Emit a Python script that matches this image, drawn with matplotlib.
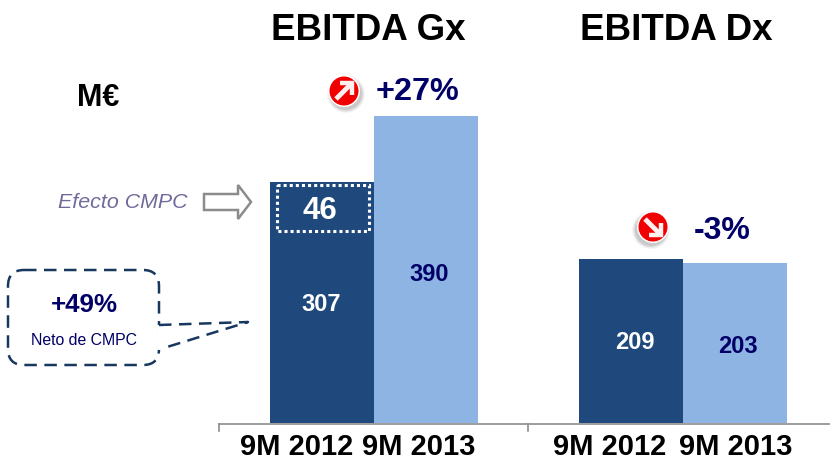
import matplotlib
matplotlib.use('Agg')
import matplotlib.pyplot as plt
from matplotlib.patches import Circle, FancyBboxPatch, Polygon, Rectangle

plt.rcParams['font.family'] = ['Liberation Sans', 'DejaVu Sans']

panels = ['EBITDA Gx', 'EBITDA Dx']
periods = ['9M 2012', '9M 2013', '9M 2012', '9M 2013']
values = [307, 390, 209, 203]
cmpc_effect = 46
changes = ['+27%', '-3%']

DARK = '#1f497d'
LIGHT = '#8eb4e3'
NAVY = '#000066'
LINE = '#17375e'
W, H = 830, 461

fig = plt.figure(figsize=(W / 100, H / 100), dpi=100, facecolor='white')

# Bars get their own axes, everything else goes on a pixel overlay
ax = fig.add_axes([219 / W, (H - 423) / H, (W - 219) / W, 330 / H])
ax.set_xlim(-0.5, 1.4773)
ax.set_ylim(0, 330 / 0.786)
ax.axis('off')

bar_w = 104 / 309
xs = [-bar_w / 2, bar_w / 2, 1 - bar_w / 2, 1 + bar_w / 2]
colors = [DARK, LIGHT, DARK, LIGHT]
ax.bar(xs, values, width=bar_w, color=colors, linewidth=0)

label_colors = ['white', NAVY, 'white', NAVY]
label_dx = [0, 0.013, 0.014, 0.01]
label_f = [0.49, 0.485, 0.49, 0.48]
for x, v, c, dx, f in zip(xs, values, label_colors, label_dx, label_f):
    ax.text(x + dx, v * f, str(v), color=c, fontsize=17, fontweight='bold', ha='center', va='center')

ov = fig.add_axes([0, 0, 1, 1], facecolor='none')
ov.set_xlim(0, W)
ov.set_ylim(H, 0)
ov.axis('off')

# axis line with group ticks
ov.plot([219, 830], [423.5, 423.5], color='#8c8c8c', lw=1.2)
for tx in [219, 528]:
    ov.plot([tx, tx], [423.5, 431], color='#8c8c8c', lw=1.2)

for cx, t in zip([368, 676], panels):
    ov.text(cx, 40, t, fontsize=26.5, fontweight='bold', ha='center', va='baseline', color='black')
# baseline sits a little high so the text box stays inside the figure
for cx, t in zip([296.5, 419, 609.5, 736], periods):
    ov.text(cx, 454.5, t, fontsize=21, fontweight='bold', ha='center', va='baseline', color='black')

ov.text(98.5, 98, 'M€', fontsize=22, fontweight='bold', ha='center', va='center', color='black')
ov.text(417, 92, changes[0], fontsize=23.3, fontweight='bold', ha='center', va='center', color=NAVY)
ov.text(722, 231, changes[1], fontsize=23, fontweight='bold', ha='center', va='center', color=NAVY)


def badge(cx, cy, sx, sy, shadow_dx):
    # soft shadow, white ring, red disc, white arrow with a square head
    for r, a in [(19, 0.07), (18, 0.1), (17, 0.14), (16, 0.18)]:
        ov.add_patch(Circle((cx + shadow_dx, cy + 3), r, fc='#808080', ec='none', alpha=a))
    ov.add_patch(Circle((cx, cy), 16, fc='white', ec='none'))
    ov.add_patch(Circle((cx, cy), 14.5, fc='#f00000', ec='none'))
    tip = (cx + 8 * sx, cy + 8 * sy)
    ov.plot([cx - 8 * sx, tip[0]], [cy - 8 * sy, tip[1]], color='#fff0f0', lw=3.5, solid_capstyle='butt')
    ov.plot([tip[0] - 12 * sx, tip[0], tip[0]], [tip[1], tip[1], tip[1] - 12 * sy], color='#fff0f0', lw=3.2,
            solid_joinstyle='miter', solid_capstyle='butt')


badge(344, 91, 1, -1, 2)
badge(653, 227, 1, 1, -2)

# Efecto CMPC
ov.text(122.5, 202, 'Efecto CMPC', fontsize=15.4, style='italic', ha='center', va='center', color='#6f6a9c')
arrow = [(204, 194), (238, 194), (238, 185), (251, 202), (238, 219), (238, 210), (204, 210)]
ov.add_patch(Polygon(arrow, closed=True, fc='white', ec='#8c8c8c', lw=1.8))

# 46 box inside the dark bar
ov.add_patch(Rectangle((276.5, 184.5), 92, 46, fc='none', ec='white', lw=2.2, ls=(0, (1, 1))))
ov.text(320, 211, str(cmpc_effect), color='white', fontsize=22.5, fontweight='bold', ha='center', va='center')

# +49% callout, gap in the right side is where the tail joins
ov.add_patch(FancyBboxPatch((8, 270), 151, 95, boxstyle='round,pad=0,rounding_size=16',
                            fc='white', ec=LINE, lw=1.8, ls=(0, (5, 3))))
ov.plot([159, 159], [327, 347], color='white', lw=3.5)
ov.plot([159, 248, 167], [325, 322, 347], color=LINE, lw=1.8, ls=(0, (5, 3)))
ov.text(84.5, 305, '+49%', fontsize=18.7, fontweight='bold', ha='center', va='center', color=NAVY)
ov.text(84, 340, 'Neto de CMPC', fontsize=11.4, ha='center', va='center', color=NAVY)

fig.savefig('out.png', dpi=100, facecolor='white')
